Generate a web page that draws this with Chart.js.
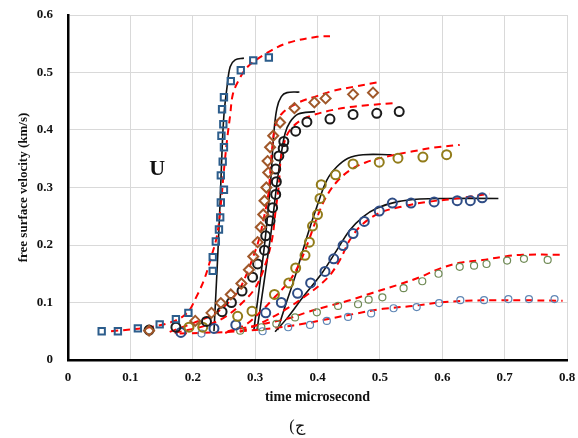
<!DOCTYPE html>
<html>
<head>
<meta charset="utf-8">
<script src="https://cdn.jsdelivr.net/npm/chart.js@4/dist/chart.umd.min.js"></script>
<style>
	body { margin: 0; background: #fff; }
	#wrap { width: 578px; height: 438px; }
</style>
</head>
<body>
<div id="wrap"><canvas id="velocityChart"></canvas></div>
<script>
// measured points, [time (microsecond), free surface velocity (km/s)]
const squarePts = [[0.054,0.050],[0.080,0.050],[0.112,0.055],[0.147,0.062],[0.173,0.071],[0.193,0.082],
	[0.232,0.155],[0.232,0.179],[0.237,0.206],[0.242,0.227],[0.244,0.248],[0.245,0.274],[0.250,0.296],
	[0.245,0.321],[0.248,0.345],[0.250,0.370],[0.246,0.390],[0.249,0.410],[0.247,0.436],[0.250,0.457],
	[0.261,0.485],[0.277,0.504],[0.297,0.521],[0.322,0.526]];
const diamondPts = [[0.130,0.051],[0.204,0.068],[0.230,0.082],[0.245,0.099],[0.261,0.114],[0.278,0.133],
	[0.290,0.157],[0.297,0.180],[0.304,0.205],[0.309,0.231],[0.313,0.253],[0.315,0.277],[0.318,0.300],
	[0.321,0.326],[0.320,0.346],[0.324,0.370],[0.329,0.390],[0.340,0.413],[0.363,0.438],[0.395,0.448],
	[0.413,0.455],[0.457,0.462],[0.489,0.465]];
const blackPts = [[0.130,0.052],[0.173,0.057],[0.222,0.067],[0.247,0.084],[0.262,0.100],[0.279,0.120],
	[0.296,0.144],[0.304,0.167],[0.315,0.191],[0.317,0.216],[0.324,0.242],[0.328,0.265],[0.333,0.288],
	[0.334,0.310],[0.333,0.332],[0.338,0.355],[0.345,0.368],[0.346,0.380],[0.365,0.398],[0.383,0.414],
	[0.420,0.419],[0.457,0.427],[0.495,0.429],[0.531,0.432]];
const olivePts = [[0.194,0.057],[0.216,0.057],[0.272,0.076],[0.295,0.085],[0.331,0.114],[0.354,0.134],
	[0.365,0.160],[0.380,0.182],[0.387,0.205],[0.392,0.233],[0.400,0.253],[0.404,0.281],[0.406,0.305],
	[0.429,0.322],[0.457,0.341],[0.499,0.344],[0.529,0.351],[0.569,0.353],[0.607,0.357]];
const navyPts = [[0.181,0.048],[0.234,0.055],[0.269,0.061],[0.317,0.082],[0.342,0.100],[0.368,0.116],
	[0.389,0.134],[0.412,0.154],[0.426,0.176],[0.441,0.199],[0.457,0.220],[0.475,0.241],[0.499,0.259],
	[0.520,0.273],[0.550,0.273],[0.587,0.275],[0.624,0.277],[0.645,0.277],[0.664,0.282]];
const greenPts = [[0.276,0.051],[0.310,0.057],[0.334,0.063],[0.364,0.074],[0.399,0.083],[0.433,0.094],
	[0.465,0.097],[0.482,0.105],[0.504,0.109],[0.538,0.125],[0.568,0.137],[0.594,0.150],[0.628,0.162],
	[0.651,0.164],[0.671,0.167],[0.704,0.173],[0.731,0.176],[0.769,0.174]];
const paleBluePts = [[0.214,0.046],[0.312,0.050],[0.353,0.057],[0.388,0.061],[0.415,0.068],[0.449,0.075],
	[0.486,0.081],[0.522,0.090],[0.559,0.092],[0.595,0.099],[0.629,0.104],[0.667,0.104],[0.706,0.106],
	[0.739,0.106],[0.780,0.106]];

// solid black model curves
const modelA = [[0.234,0.050],[0.239,0.157],[0.244,0.278],[0.247,0.365],[0.250,0.426],[0.255,0.475],
	[0.260,0.510],[0.268,0.522],[0.282,0.525]];
const modelB = [[0.298,0.052],[0.316,0.209],[0.325,0.313],[0.330,0.395],[0.335,0.438],[0.342,0.458],
	[0.351,0.465],[0.371,0.466]];
const modelC = [[0.303,0.052],[0.324,0.209],[0.335,0.307],[0.342,0.359],[0.348,0.394],[0.356,0.414],
	[0.369,0.428],[0.396,0.432]];
const modelD = [[0.336,0.052],[0.348,0.093],[0.364,0.145],[0.383,0.214],[0.401,0.273],[0.415,0.313],
	[0.431,0.336],[0.449,0.351],[0.473,0.357],[0.519,0.357]];
const modelE = [[0.332,0.049],[0.353,0.075],[0.377,0.110],[0.407,0.151],[0.431,0.191],[0.452,0.226],
	[0.473,0.249],[0.495,0.264],[0.527,0.275],[0.564,0.280],[0.607,0.281],[0.690,0.281]];

// red dashed fitted curves
const fitSquare = [[0.069,0.050],[0.131,0.057],[0.171,0.068],[0.192,0.083],[0.205,0.108],[0.218,0.139],
	[0.229,0.177],[0.239,0.217],[0.245,0.270],[0.250,0.330],[0.255,0.383],[0.260,0.426],[0.264,0.461],
	[0.272,0.483],[0.288,0.510],[0.319,0.534],[0.351,0.551],[0.399,0.562],[0.420,0.563]];
const fitDiamond = [[0.163,0.049],[0.205,0.066],[0.239,0.083],[0.271,0.117],[0.285,0.146],[0.296,0.177],
	[0.306,0.209],[0.314,0.247],[0.321,0.287],[0.324,0.322],[0.327,0.365],[0.333,0.409],[0.345,0.431],
	[0.372,0.449],[0.399,0.459],[0.425,0.468],[0.457,0.475],[0.497,0.483]];
const fitBlack = [[0.171,0.047],[0.224,0.061],[0.252,0.075],[0.276,0.096],[0.300,0.125],[0.316,0.165],
	[0.327,0.209],[0.333,0.261],[0.338,0.304],[0.341,0.348],[0.348,0.383],[0.356,0.400],[0.372,0.416],
	[0.393,0.426],[0.425,0.435],[0.452,0.440],[0.479,0.443],[0.524,0.447]];
const fitOlive = [[0.252,0.047],[0.284,0.061],[0.308,0.083],[0.332,0.110],[0.356,0.139],[0.372,0.170],
	[0.385,0.205],[0.399,0.247],[0.413,0.282],[0.431,0.310],[0.452,0.330],[0.478,0.344],[0.516,0.355],
	[0.553,0.363],[0.591,0.370],[0.628,0.374]];
const fitNavy = [[0.276,0.049],[0.303,0.061],[0.340,0.082],[0.383,0.113],[0.417,0.144],[0.436,0.174],
	[0.452,0.209],[0.471,0.235],[0.500,0.256],[0.532,0.266],[0.575,0.275],[0.617,0.280],[0.676,0.289]];
const fitGreen = [[0.256,0.050],[0.319,0.064],[0.356,0.073],[0.383,0.083],[0.415,0.093],[0.452,0.104],
	[0.489,0.117],[0.527,0.130],[0.564,0.144],[0.596,0.159],[0.628,0.169],[0.665,0.174],[0.700,0.180],
	[0.729,0.183],[0.793,0.183]];
const fitPaleBlue = [[0.179,0.046],[0.276,0.050],[0.340,0.057],[0.383,0.064],[0.420,0.072],[0.463,0.081],
	[0.505,0.089],[0.553,0.094],[0.596,0.100],[0.639,0.103],[0.688,0.104],[0.729,0.104],[0.793,0.103]];

const xTicks = [0, 0.1, 0.2, 0.3, 0.4, 0.5, 0.6, 0.7, 0.8];
const yTicks = [0, 0.1, 0.2, 0.3, 0.4, 0.5, 0.6];
const metalLabel = 'U';
const panelLabel = 'ج)';

const serif = '"Liberation Serif", "Times New Roman", serif';

const toXY = (pts) => pts.map((p) => ({ x: p[0], y: p[1] }));

function markers(pts, color, style, radius, width) {
	return {
		data: toXY(pts),
		showLine: false,
		pointStyle: style,
		pointRadius: radius,
		pointBorderColor: color,
		pointBackgroundColor: 'rgba(0,0,0,0)',
		pointBorderWidth: width,
		order: 0
	};
}

function curve(pts, color, width, dash) {
	return {
		data: toXY(pts),
		showLine: true,
		pointRadius: 0,
		borderColor: color,
		borderWidth: width,
		borderDash: dash,
		tension: 0.35,
		fill: false,
		order: 1
	};
}

// bold "U" inside the plot and the panel tag under the axis title
const labelsPlugin = {
	id: 'labels',
	afterDraw(chart) {
		const ctx = chart.ctx;
		const xs = chart.scales.x, ys = chart.scales.y;
		ctx.save();
		ctx.fillStyle = '#111';
		ctx.textAlign = 'center';
		ctx.textBaseline = 'middle';
		ctx.font = 'bold 22px ' + serif;
		ctx.fillText(metalLabel, xs.getPixelForValue(0.143), ys.getPixelForValue(0.331));
		ctx.font = '16px ' + serif;
		ctx.direction = 'rtl';
		ctx.fillText(panelLabel, 297, 427);
		ctx.restore();
	}
};

new Chart(document.getElementById('velocityChart'), {
	type: 'scatter',
	data: {
		datasets: [
			curve(fitSquare, '#ff0000', 2, [7, 5]),
			curve(fitDiamond, '#ff0000', 2, [7, 5]),
			curve(fitBlack, '#ff0000', 2, [7, 5]),
			curve(fitOlive, '#ff0000', 2, [7, 5]),
			curve(fitNavy, '#ff0000', 2, [7, 5]),
			curve(fitGreen, '#ff0000', 2, [7, 5]),
			curve(fitPaleBlue, '#ff0000', 2, [7, 5]),
			curve(modelA, '#111', 1.6, []),
			curve(modelB, '#111', 1.6, []),
			curve(modelC, '#111', 1.6, []),
			curve(modelD, '#111', 1.6, []),
			curve(modelE, '#111', 1.6, []),
			markers(squarePts, '#2c5d8c', 'rect', 4.5, 2),
			markers(diamondPts, '#a0582a', 'rectRot', 5, 2),
			markers(blackPts, '#1a1a1a', 'circle', 4.5, 2),
			markers(olivePts, '#927c1a', 'circle', 4.5, 2),
			markers(navyPts, '#2f4d86', 'circle', 4.5, 2),
			markers(greenPts, '#6f8a55', 'circle', 3.5, 1.2),
			markers(paleBluePts, '#5f86b5', 'circle', 3.5, 1.2)
		]
	},
	options: {
		responsive: true,
		maintainAspectRatio: false,
		animation: false,
		layout: { padding: { left: 0, right: 11, top: 15, bottom: 30 } },
		plugins: {
			legend: { display: false },
			tooltip: { enabled: false }
		},
		scales: {
			x: {
				type: 'linear',
				min: 0,
				max: 0.8,
				afterFit: (scale) => {
					// fixed band under the plot; end labels fit inside the outer padding
					scale.height = 48;
					scale.paddingLeft = 0;
					scale.paddingRight = 0;
				},
				afterBuildTicks: (scale) => { scale.ticks = xTicks.map((v) => ({ value: v })); },
				grid: { color: '#d9d9d9', lineWidth: 1, drawTicks: false },
				border: { color: '#000', width: 2.5 },
				ticks: {
					padding: 10,
					color: '#111',
					font: { family: serif, size: 13, weight: 'bold' },
					callback: (v) => (v === 0 ? '0' : v.toFixed(1))
				},
				title: {
					display: true,
					text: 'time microsecond',
					color: '#111',
					font: { family: serif, size: 14, weight: 'bold' },
					padding: { top: 0, bottom: 2 }
				}
			},
			y: {
				type: 'linear',
				min: 0,
				max: 0.6,
				afterFit: (scale) => {
					scale.width = 68;
					scale.paddingTop = 0;
					scale.paddingBottom = 0;
				},
				afterBuildTicks: (scale) => { scale.ticks = yTicks.map((v) => ({ value: v })); },
				grid: { color: '#d9d9d9', lineWidth: 1, drawTicks: false },
				border: { color: '#000', width: 2.5 },
				ticks: {
					padding: 15,
					color: '#111',
					font: { family: serif, size: 13, weight: 'bold' },
					callback: (v) => (v === 0 ? '0' : v.toFixed(1))
				},
				title: {
					display: true,
					text: 'free surface velocity (km/s)',
					color: '#111',
					font: { family: serif, size: 13, weight: 'bold' },
					padding: { top: 16, bottom: 0 }
				}
			}
		}
	},
	plugins: [labelsPlugin]
});
</script>
</body>
</html>
